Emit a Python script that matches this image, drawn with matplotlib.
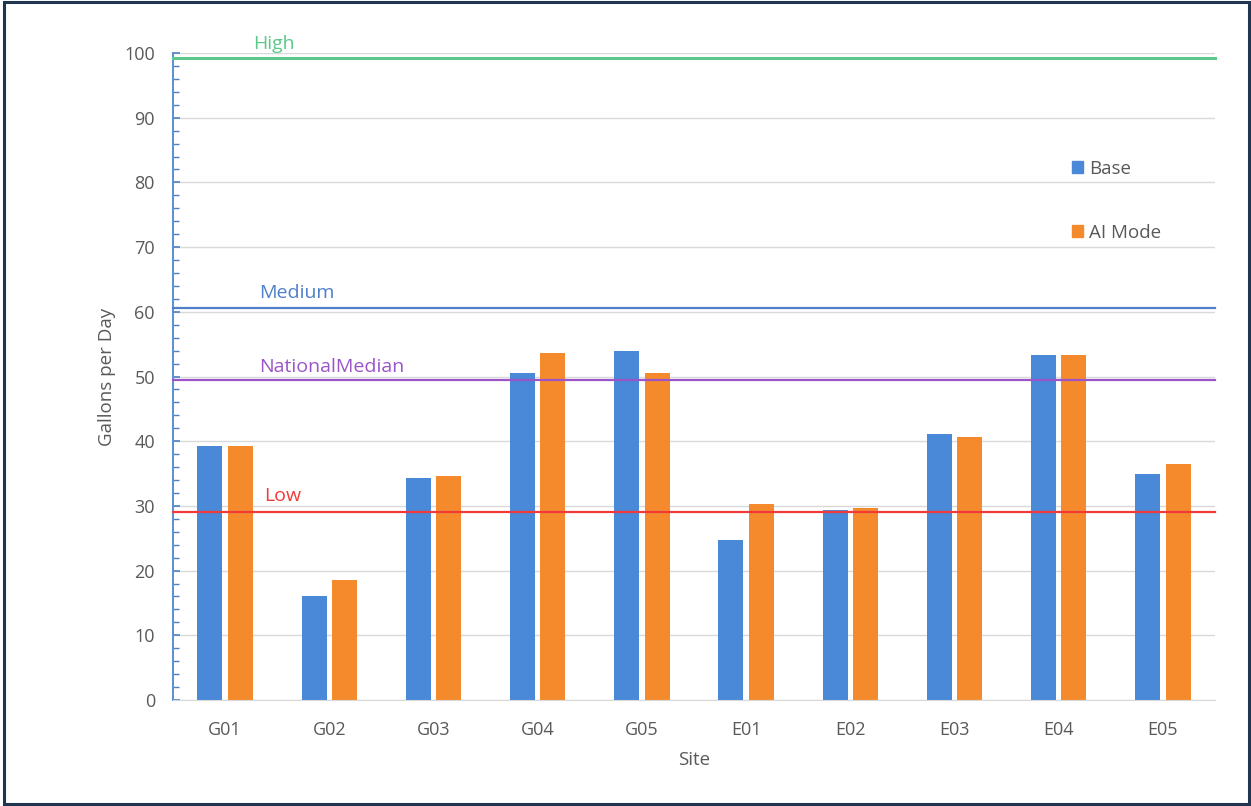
import numpy as np
import matplotlib
matplotlib.use("Agg")
import matplotlib.pyplot as plt
from matplotlib.patches import Rectangle, Patch
from matplotlib.ticker import MultipleLocator

plt.rcParams['font.family'] = ['Open Sans', 'DejaVu Sans']

# Sites and daily water use per site
sites = ["G01", "G02", "G03", "G04", "G05", "E01", "E02", "E03", "E04", "E05"]
base = [39.2, 16.1, 34.3, 50.5, 53.9, 24.8, 29.4, 41.1, 53.4, 34.9]
ai_mode = [39.2, 18.5, 34.6, 53.7, 50.5, 30.3, 29.7, 40.6, 53.4, 36.5]

# Reference usage levels
ref_names = ["High", "Medium", "NationalMedian", "Low"]
ref_values = [99.2, 60.6, 49.5, 29.0]
ref_colors = ["#5cc98a", "#4f7fc9", "#9a55c8", "#f23a3a"]
ref_label_x = [0.77, 0.83, 0.83, 0.87]    # label start, in category units from the left edge
ref_label_dy = [2.2, 2.3, 1.9, 2.6]       # label offset above its line
ref_lw = [2.2, 1.6, 1.6, 1.6]

blue = "#4a88d8"
orange = "#f58a2c"
grey_text = "#595959"

fig = plt.figure(figsize=(12.51, 8.06), dpi=100)
ax = fig.add_axes([173 / 1251, 1 - 700 / 806, (1215 - 173) / 1251, (700 - 53) / 806])

x = np.arange(len(sites))
w = 0.24
off = 0.145
ax.bar(x - off, base, width=w, color=blue, zorder=2, label="Base")
ax.bar(x + off, ai_mode, width=w, color=orange, zorder=2, label="AI Mode")

ax.set_xlim(-0.5, len(sites) - 0.5)
ax.set_ylim(0, 100)

for name, val, col, lx, dy, lw in zip(ref_names, ref_values, ref_colors,
                                      ref_label_x, ref_label_dy, ref_lw):
    ax.axhline(val, color=col, lw=lw, zorder=3, clip_on=False)
    ax.text(lx - 0.5, val + dy, name, color=col, fontsize=14,
            ha="left", va="center", zorder=4)

# Grid and axes styling
ax.yaxis.set_major_locator(MultipleLocator(10))
ax.yaxis.set_minor_locator(MultipleLocator(2))
ax.grid(axis="y", which="major", color="#d9d9d9", lw=1.0, zorder=0)
ax.set_axisbelow(True)
for s in ["top", "right"]:
    ax.spines[s].set_visible(False)
ax.spines["bottom"].set_color("#d9d9d9")
ax.spines["left"].set_color("#5b8fd0")
ax.spines["left"].set_linewidth(1.4)

ax.tick_params(axis="y", which="major", direction="in", length=5, width=1.2,
               color="#4f7fc0", labelcolor=grey_text, labelsize=13, pad=13)
ax.tick_params(axis="y", which="minor", direction="in", length=4, width=1.0,
               color="#4f7fc0")
ax.tick_params(axis="x", length=0, labelcolor=grey_text, labelsize=13, pad=15)
ax.set_xticks(x)
ax.set_xticklabels(sites)

ax.set_xlabel("Site", color=grey_text, fontsize=13.5, labelpad=9)
ax.set_ylabel("Gallons per Day", color=grey_text, fontsize=13.5, labelpad=6)

handles = [Patch(color=blue), Patch(color=orange)]
fig.legend(handles, ["Base", "AI Mode"], loc="upper left",
           bbox_to_anchor=(1055 / 1251, 1 - 143 / 806), frameon=False,
           fontsize=13.5, labelcolor=grey_text, handlelength=0.6,
           handleheight=0.6, handletextpad=0.3, labelspacing=2.45)

# Outer frame
fig.patches.append(Rectangle((4 / 1251, 2 / 806), 1245 / 1251, 802 / 806,
                             transform=fig.transFigure, fill=False,
                             edgecolor="#1f3550", lw=2.2, zorder=10))

fig.savefig("out.png", dpi=100)
